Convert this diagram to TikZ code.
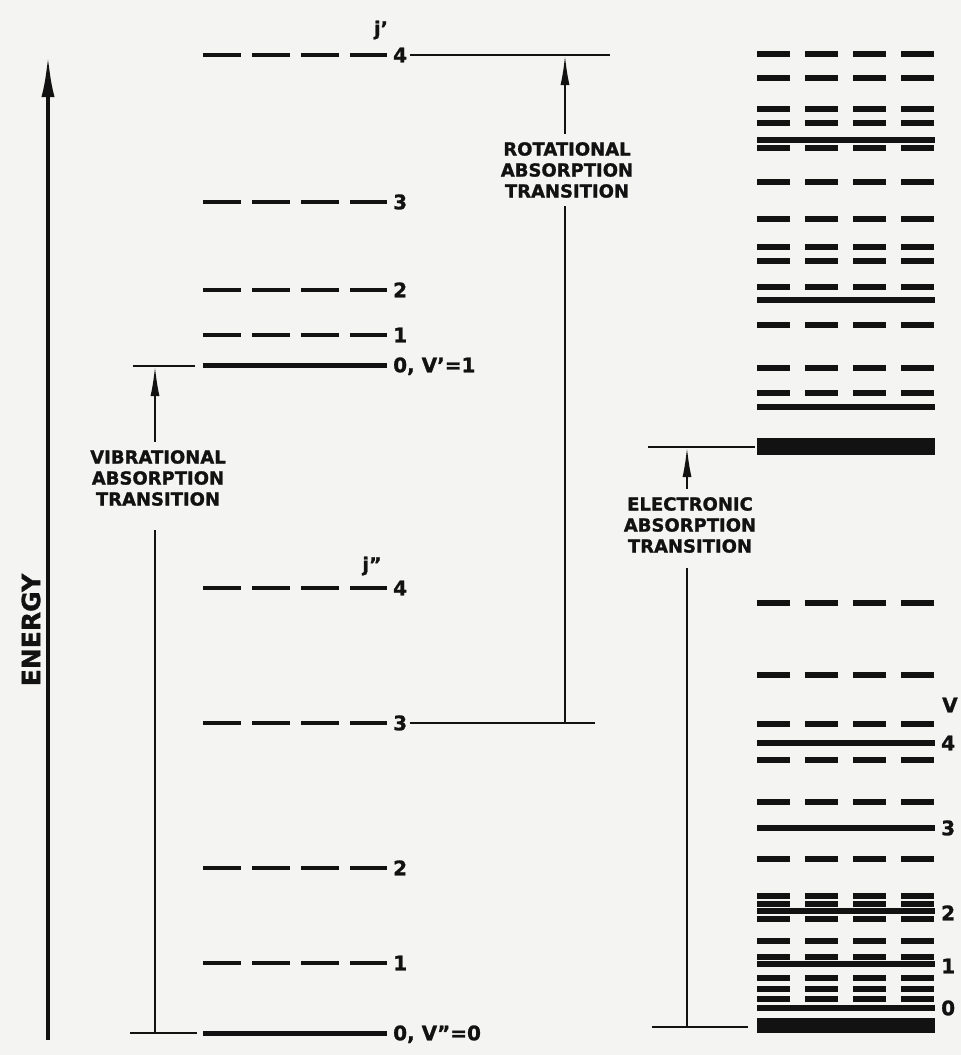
\documentclass[tikz,border=0pt]{standalone}
\usepackage{fontspec}
\setmainfont{DejaVu Sans}[BoldFeatures={FakeBold=1.2}]
\usepackage{tikz}
\usetikzlibrary{arrows.meta}
\definecolor{paperGrey}{RGB}{244, 244, 242}
\definecolor{inkBlack}{RGB}{18, 18, 18}

\tikzset{
  lvl/.style={line width=4.5pt, inkBlack, dash pattern=on 38pt off 11pt},
  lvlsolid/.style={line width=5pt, inkBlack},
  band/.style={line width=6pt, inkBlack, dash pattern=on 33pt off 15pt},
  bandsolid/.style={line width=6pt, inkBlack},
  thinline/.style={line width=2pt, inkBlack},
  numlbl/.style={anchor=west, inner sep=0pt, text height=14.5pt, text depth=0pt,
    font=\fontsize{20}{20}\selectfont\bfseries, inkBlack},
  translbl/.style={align=center, inner xsep=2pt, inner ysep=8pt,
    font=\fontsize{18}{21}\selectfont\bfseries, inkBlack},
  uparrow/.style={thinline, -{Latex[length=30pt,width=9pt]}}
}

\begin{document}
\begin{tikzpicture}[x=1pt, y=-1pt]
  \fill[paperGrey] (0,0) rectangle (961,1055);
  \useasboundingbox (0,0) rectangle (961,1055);

  % energy axis
  \coordinate (ebase) at (48,1040);
  \coordinate (etip) at (48,55);
  \draw[line width=4pt, inkBlack, -{Latex[length=42pt,width=13pt]}] (ebase) -- (etip);
  \node[rotate=90, inkBlack, font=\fontsize{25}{25}\selectfont\bfseries] (energy) at (31,630) {ENERGY};

  % rotational levels of v'=1
  \node[inkBlack, font=\fontsize{19}{19}\selectfont\bfseries] (jup) at (381,30) {j'};
  \draw[lvl] (203,55) -- (387,55);   \node[numlbl] (jup4) at (393,55) {4};
  \draw[lvl] (203,202) -- (387,202); \node[numlbl] (jup3) at (393,202) {3};
  \draw[lvl] (203,290) -- (387,290); \node[numlbl] (jup2) at (393,290) {2};
  \draw[lvl] (203,335) -- (387,335); \node[numlbl] (jup1) at (393,335) {1};
  \draw[lvlsolid] (203,365) -- (387,365); \node[numlbl] (jup0) at (393,365) {0, V'=1};

  % rotational levels of v''=0
  \node[inkBlack, font=\fontsize{19}{19}\selectfont\bfseries] (jlo) at (372,566) {j''};
  \draw[lvl] (203,588) -- (387,588);   \node[numlbl] (jlo4) at (393,588) {4};
  \draw[lvl] (203,723) -- (387,723);   \node[numlbl] (jlo3) at (393,723) {3};
  \draw[lvl] (203,868) -- (387,868);   \node[numlbl] (jlo2) at (393,868) {2};
  \draw[lvl] (203,963) -- (387,963);   \node[numlbl] (jlo1) at (393,963) {1};
  \draw[lvlsolid] (203,1033) -- (387,1033); \node[numlbl] (jlo0) at (393,1033) {0, V''=0};

  % vibrational absorption transition
  \coordinate (vibtip) at (155,366);
  \coordinate (viblow) at (155,1033);
  \draw[thinline] (133,366) -- (195,366);
  \draw[thinline] (130,1033) -- (197,1033);
  \node[translbl] (vibtxt) at (158,478) {VIBRATIONAL\\ABSORPTION\\TRANSITION};
  \draw[thinline, shorten >=16pt] (viblow) -- (vibtxt.south -| viblow);
  \draw[uparrow] (vibtxt.north -| vibtip) -- (vibtip);

  % rotational absorption transition
  \coordinate (rottip) at (565,55);
  \coordinate (rotlow) at (565,723);
  \draw[thinline] (jup4.east) ++(3,0) -- (610,55);
  \draw[thinline] (jlo3.east) ++(3,0) -- (595,723);
  \node[translbl] (rottxt) at (567,170) {ROTATIONAL\\ABSORPTION\\TRANSITION};
  \draw[thinline] (rotlow) -- (rottxt.south -| rotlow);
  \draw[uparrow] (rottxt.north -| rottip) -- (rottip);

  % electronic absorption transition
  \coordinate (eletip) at (687,447);
  \coordinate (elelow) at (687,1027);
  \draw[thinline] (648,447) -- (755,447);
  \draw[thinline] (652,1027) -- (748,1027);
  \node[translbl] (eletxt) at (690,525) {ELECTRONIC\\ABSORPTION\\TRANSITION};
  \draw[thinline, shorten >=7pt] (elelow) -- (eletxt.south -| elelow);
  \draw[uparrow] (eletxt.north -| eletip) -- (eletip);

  % upper electronic state bands
  \foreach \y in {54,78,109,123,148,182,219,247,261,287,325,368,393}
    \draw[band] (757,\y) -- (935,\y);
  \foreach \y in {140,300,407}
    \draw[bandsolid] (757,\y) -- (935,\y);
  \draw[line width=17pt, inkBlack] (757,446) -- (935,446);

  % lower electronic state bands
  \foreach \y in {603,675,724,760,802,859,896,904,919,941,957,978,989,999}
    \draw[band] (757,\y) -- (935,\y);
  \foreach \y in {743,828,911,964,1008}
    \draw[bandsolid] (757,\y) -- (935,\y);
  \draw[line width=15pt, inkBlack] (757,1025) -- (935,1025);
  \node[numlbl] (vlbl) at (942,705) {V};
  \node[numlbl] (v4) at (941,743) {4};
  \node[numlbl] (v3) at (941,828) {3};
  \node[numlbl] (v2) at (941,913) {2};
  \node[numlbl] (v1) at (941,966) {1};
  \node[numlbl] (v0) at (941,1008) {0};
\end{tikzpicture}
\end{document}
